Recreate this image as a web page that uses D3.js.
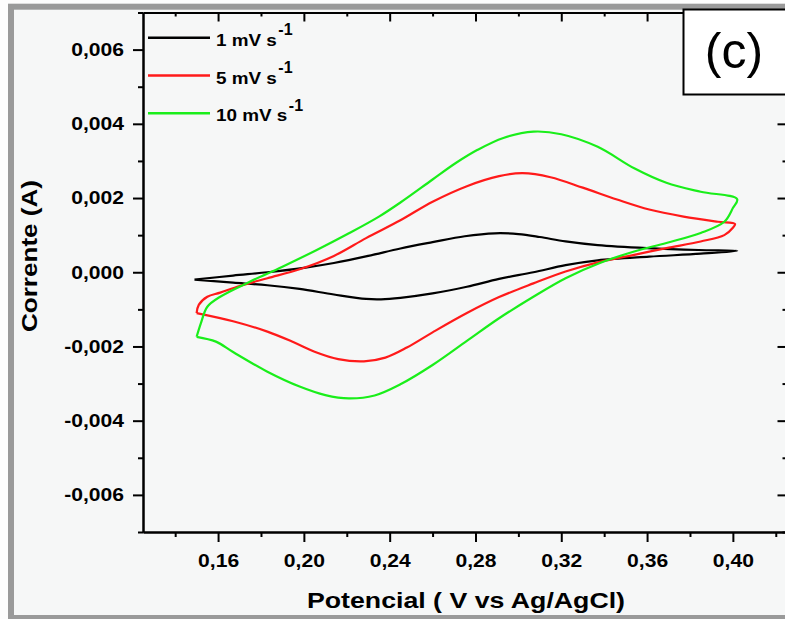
<html>
  <head>
    <style>
      body { margin: 0; background: #fff; }
      text { font-family: 'Liberation Sans', Arial, sans-serif; }
    </style>
  </head>
  <body>
    <script src="https://d3js.org/d3.v7.min.js"></script>

    <svg id="cv" width="785" height="619"></svg>

    <script>
      // scan rates (mV/s) shown in the legend
      const scanRates = [1, 5, 10];

      // 1 mV/s loop: anodic branch then cathodic branch back
      const potential1 = [0.149, 0.167, 0.183, 0.200, 0.214, 0.230, 0.245, 0.260, 0.275, 0.289, 0.300, 0.310, 0.322, 0.337, 0.360, 0.384, 0.402,
        0.385, 0.361, 0.337, 0.322, 0.307, 0.291, 0.276, 0.260, 0.245, 0.236, 0.229, 0.214, 0.198, 0.183, 0.167, 0.149];
      const current1 = [-0.00020, -0.00009, 0.00000, 0.00012, 0.00025, 0.00044, 0.00064, 0.00081, 0.00097, 0.00105, 0.00103, 0.00095, 0.00083, 0.00073, 0.00065, 0.00060, 0.00058,
        0.00050, 0.00042, 0.00032, 0.00019, 0.00000, -0.00018, -0.00039, -0.00057, -0.00069, -0.00073, -0.00072, -0.00060, -0.00045, -0.00035, -0.00028, -0.00020];

      // 5 mV/s loop
      const potential5 = [0.150, 0.151, 0.155, 0.161, 0.170, 0.183, 0.198, 0.214, 0.229, 0.245, 0.260, 0.276, 0.291, 0.302, 0.315, 0.330, 0.346, 0.361, 0.377, 0.393, 0.401,
        0.400, 0.396, 0.385, 0.369, 0.354, 0.338, 0.322, 0.307, 0.291, 0.276, 0.260, 0.248, 0.238, 0.228, 0.216, 0.205, 0.195, 0.183, 0.167, 0.150];
      const current5 = [-0.00110, -0.00088, -0.00066, -0.00055, -0.00037, -0.00016, 0.00008, 0.00044, 0.00092, 0.00140, 0.00190, 0.00232, 0.00259, 0.00267, 0.00256, 0.00228, 0.00196, 0.00169, 0.00150, 0.00136, 0.00130,
        0.00120, 0.00100, 0.00083, 0.00065, 0.00047, 0.00028, 0.00002, -0.00030, -0.00067, -0.00110, -0.00162, -0.00203, -0.00230, -0.00240, -0.00234, -0.00214, -0.00188, -0.00160, -0.00132, -0.00110];

      // 10 mV/s loop
      const potential10 = [0.150, 0.152, 0.155, 0.161, 0.175, 0.190, 0.206, 0.221, 0.235, 0.245, 0.260, 0.271, 0.281, 0.293, 0.307, 0.320, 0.337, 0.354, 0.369, 0.385, 0.402,
        0.400, 0.396, 0.385, 0.369, 0.354, 0.338, 0.322, 0.307, 0.291, 0.276, 0.260, 0.245, 0.233, 0.221, 0.210, 0.198, 0.183, 0.167, 0.159, 0.150];
      const current10 = [-0.00174, -0.00137, -0.00093, -0.00066, -0.00025, 0.00015, 0.00060, 0.00105, 0.00150, 0.00188, 0.00250, 0.00295, 0.00330, 0.00362, 0.00379, 0.00372, 0.00338, 0.00280, 0.00241, 0.00217, 0.00197,
        0.00173, 0.00136, 0.00106, 0.00079, 0.00056, 0.00025, -0.00016, -0.00066, -0.00124, -0.00185, -0.00250, -0.00302, -0.00332, -0.00340, -0.00331, -0.00308, -0.00268, -0.00215, -0.00187, -0.00174];

      const xMajor = [0.16, 0.20, 0.24, 0.28, 0.32, 0.36, 0.40];
      const xMinor = [0.14, 0.18, 0.22, 0.26, 0.30, 0.34, 0.38, 0.42];
      const yMajor = [-0.006, -0.004, -0.002, 0, 0.002, 0.004, 0.006];
      const yMinor = [-0.007, -0.005, -0.003, -0.001, 0.001, 0.003, 0.005, 0.007];

      const colors = ['#000000', '#ff1a1a', '#1aee1a'];

      const series = [
        { potential: potential1, current: current1 },
        { potential: potential5, current: current5 },
        { potential: potential10, current: current10 },
      ];

      const ptBr = d3.formatLocale({ decimal: ',', thousands: '.', grouping: [3], currency: ['', ''], minus: '-' });
      const fmtY = ptBr.format('.3f');
      const fmtX = ptBr.format('.2f');

      const svg = d3.select('#cv');
      const plotLeft = 143, plotRight = 786.5, plotTop = 12.5, plotBottom = 532;

      const x = d3.scaleLinear().domain([0.125, 0.425]).range([plotLeft, plotRight]);
      const y = d3.scaleLinear().domain([-0.007, 0.007]).range([plotBottom, plotTop]);

      // page background + grey frame
      svg.append('rect').attr('width', 785).attr('height', 619).attr('fill', '#fdfdfd');
      svg.append('rect')
        .attr('x', 11).attr('y', 6.7).attr('width', 800).attr('height', 611.3)
        .attr('fill', '#f6f7f7').attr('stroke', '#9a9a9a').attr('stroke-width', 6);

      // stretch text horizontally like the original bitmap
      const stretch = (sel, k) => sel.each(function () {
        const w = this.getComputedTextLength();
        d3.select(this).attr('textLength', w * k).attr('lengthAdjust', 'spacingAndGlyphs');
      });

      // curves
      const line = d3.line()
        .x((d) => x(d[0]))
        .y((d) => y(d[1]))
        .curve(d3.curveCatmullRom.alpha(0.5));

      svg.append('g')
        .selectAll('path')
        .data(series)
        .enter()
        .append('path')
        .attr('d', (s) => line(s.potential.map((e, i) => [e, s.current[i]])))
        .attr('fill', 'none')
        .attr('stroke', (_, i) => colors[i])
        .attr('stroke-width', 2.2);

      // axes
      const styleAxis = (g) => {
        g.selectAll('path.domain').attr('stroke', '#000').attr('stroke-width', 2);
        g.selectAll('line').attr('stroke', '#000').attr('stroke-width', 2);
      };

      const gBottom = svg.append('g').attr('transform', `translate(0,${plotBottom})`)
        .call(d3.axisBottom(x).tickValues(xMajor).tickSize(10).tickSizeOuter(0).tickPadding(11.5).tickFormat(fmtX))
        .call(styleAxis);
      svg.append('g').attr('transform', `translate(0,${plotBottom})`)
        .call(d3.axisBottom(x).tickValues(xMinor).tickSize(5).tickSizeOuter(0).tickFormat(''))
        .call(styleAxis);

      const gLeft = svg.append('g').attr('transform', `translate(${plotLeft},0)`)
        .call(d3.axisLeft(y).tickValues(yMajor).tickSize(10).tickSizeOuter(0).tickPadding(9).tickFormat(fmtY))
        .call(styleAxis);
      svg.append('g').attr('transform', `translate(${plotLeft},0)`)
        .call(d3.axisLeft(y).tickValues(yMinor).tickSize(5).tickSizeOuter(0).tickFormat(''))
        .call(styleAxis);

      // top and right: inward ticks, no labels
      svg.append('g').attr('transform', `translate(0,${plotTop})`)
        .call(d3.axisBottom(x).tickValues(xMajor).tickSize(9).tickSizeOuter(0).tickFormat(''))
        .call(styleAxis);
      svg.append('g').attr('transform', `translate(0,${plotTop})`)
        .call(d3.axisBottom(x).tickValues(xMinor).tickSize(4).tickSizeOuter(0).tickFormat(''))
        .call(styleAxis);
      svg.append('g').attr('transform', `translate(${plotRight},0)`)
        .call(d3.axisLeft(y).tickValues(yMajor).tickSize(9).tickSizeOuter(0).tickFormat(''))
        .call(styleAxis);
      svg.append('g').attr('transform', `translate(${plotRight},0)`)
        .call(d3.axisLeft(y).tickValues(yMinor).tickSize(4).tickSizeOuter(0).tickFormat(''))
        .call(styleAxis);

      [gBottom, gLeft].forEach((g) => {
        g.selectAll('text')
          .attr('font-family', "'Liberation Sans', Arial, sans-serif")
          .attr('font-size', 18.5)
          .attr('font-weight', 'bold')
          .attr('fill', '#000')
          .call(stretch, 1.14);
      });

      // axis titles
      svg.append('text')
        .text('Potencial ( V vs Ag/AgCl)')
        .attr('x', 466).attr('y', 608)
        .attr('text-anchor', 'middle')
        .attr('font-size', 21.5).attr('font-weight', 'bold')
        .attr('textLength', 318).attr('lengthAdjust', 'spacingAndGlyphs');

      svg.append('text')
        .text('Corrente (A)')
        .attr('transform', 'translate(37,256) rotate(-90)')
        .attr('text-anchor', 'middle')
        .attr('font-size', 21.5).attr('font-weight', 'bold')
        .attr('textLength', 152).attr('lengthAdjust', 'spacingAndGlyphs');

      // legend
      const legend = svg.append('g');
      const legendRow = (i) => 37.7 + i * 37.8;
      legend.selectAll('line')
        .data(scanRates)
        .enter()
        .append('line')
        .attr('x1', 148).attr('x2', 210)
        .attr('y1', (_, i) => legendRow(i)).attr('y2', (_, i) => legendRow(i))
        .attr('stroke', (_, i) => colors[i])
        .attr('stroke-width', 2.5);

      scanRates.forEach((r, i) => {
        const t = legend.append('text')
          .text(`${r} mV s`)
          .attr('x', 216).attr('y', legendRow(i) + 8)
          .attr('font-size', 17).attr('font-weight', 'bold')
          .call(stretch, 1.11);
        const end = 216 + +t.attr('textLength');
        legend.append('text')
          .text('-1')
          .attr('x', end + 1.5).attr('y', legendRow(i) - 2.5)
          .attr('font-size', 16).attr('font-weight', 'bold');
      });

      // panel label
      svg.append('rect')
        .attr('x', 683.5).attr('y', 9.5).attr('width', 120).attr('height', 85)
        .attr('fill', '#ffffff').attr('stroke', '#000').attr('stroke-width', 2);
      svg.append('text')
        .text('(c)')
        .attr('x', 734).attr('y', 68)
        .attr('text-anchor', 'middle')
        .attr('font-size', 50);
    </script>
  </body>
</html>
